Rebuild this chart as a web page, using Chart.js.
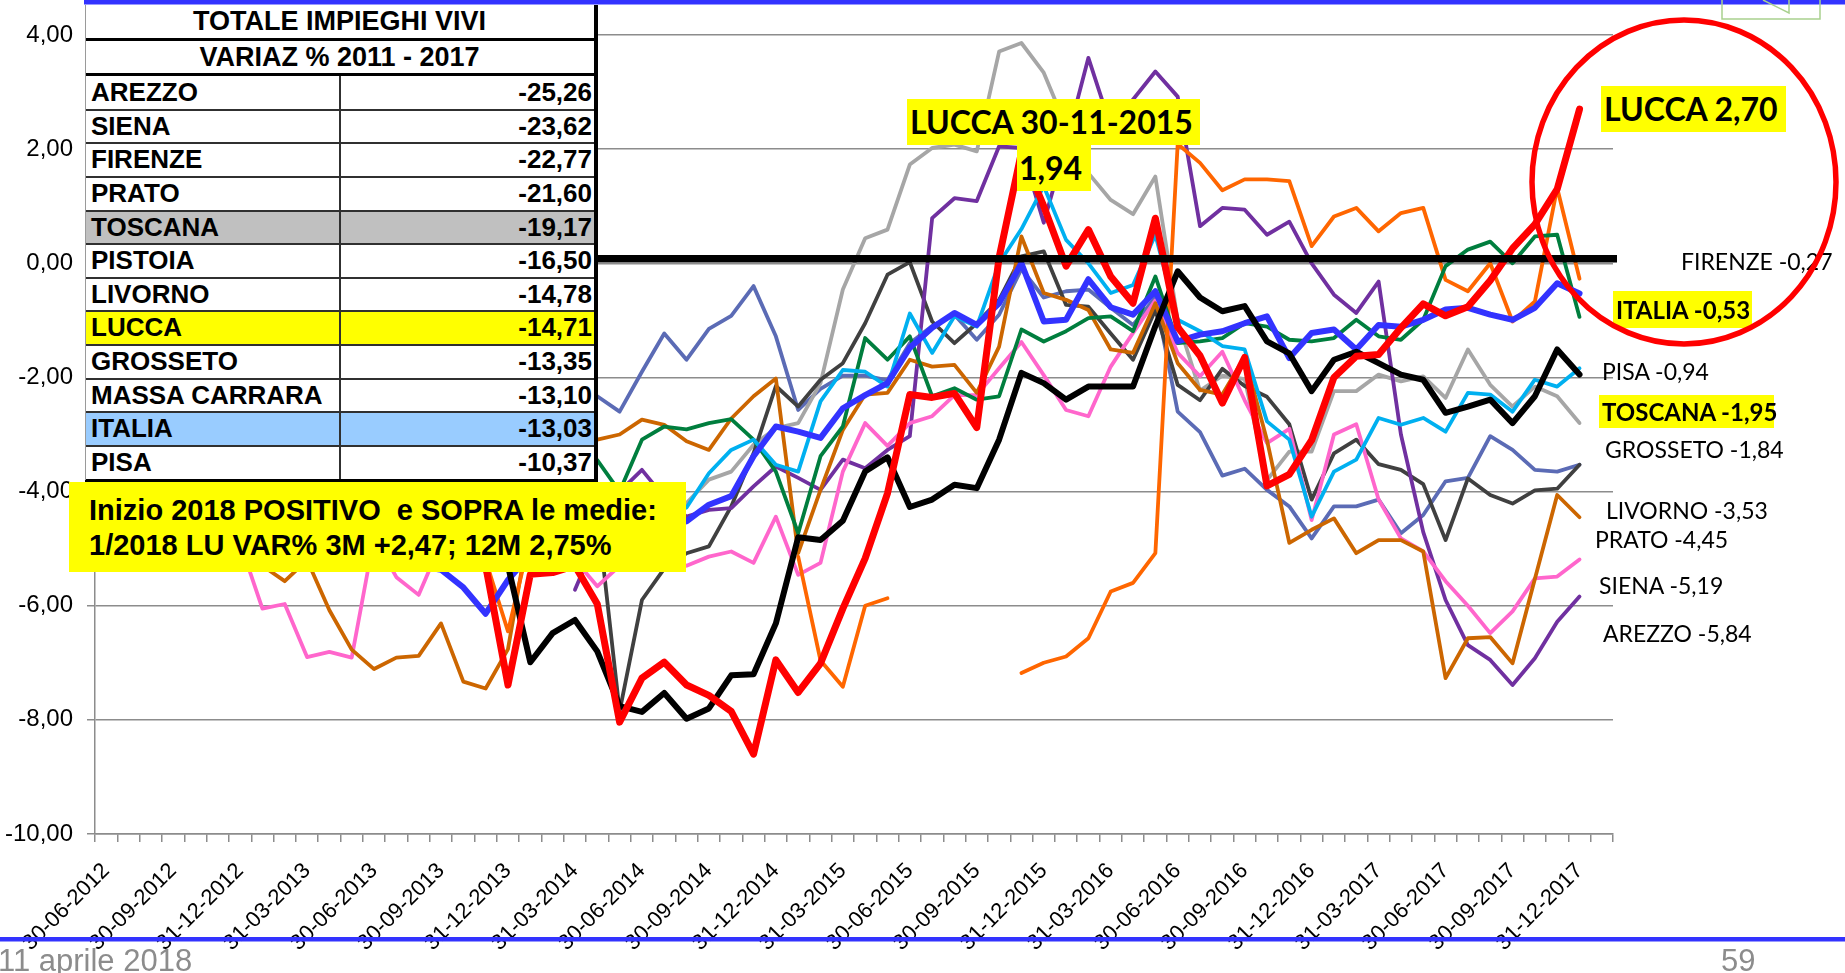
<!DOCTYPE html>
<html lang="it"><head><meta charset="utf-8"><title>Totale impieghi vivi</title>
<script src="https://cdn.jsdelivr.net/npm/chart.js@4.4.1/dist/chart.umd.min.js"></script>
<style>
 html,body{margin:0;padding:0;background:#fff;}
 #wrap{position:relative;width:1845px;height:973px;overflow:hidden;background:#fff;}
 #c{position:absolute;left:0;top:0;}
 .abs{position:absolute;white-space:pre;}
 .tb{font-family:"Liberation Sans",Arial,sans-serif;font-weight:bold;color:#000;}
 .lbl{font-family:Lato,sans-serif;font-size:23px;line-height:23px;color:#000;}
 .hl{font-family:Lato,sans-serif;font-weight:bold;background:#FFFF00;color:#000;}
 .foot{font-family:"Liberation Sans",Arial,sans-serif;font-size:31px;line-height:30px;color:#8c8c8c;}
</style></head>
<body><div id="wrap"><canvas id="c" width="1845" height="973"></canvas><div id="ov"></div></div>
<script>
// ---------- categories (month-end dates) ----------
const MONTHS = ["30-06-2012","31-07-2012","31-08-2012","30-09-2012","31-10-2012","30-11-2012","31-12-2012",
"31-01-2013","28-02-2013","31-03-2013","30-04-2013","31-05-2013","30-06-2013","31-07-2013","31-08-2013","30-09-2013","31-10-2013","30-11-2013","31-12-2013",
"31-01-2014","28-02-2014","31-03-2014","30-04-2014","31-05-2014","30-06-2014","31-07-2014","31-08-2014","30-09-2014","31-10-2014","30-11-2014","31-12-2014",
"31-01-2015","28-02-2015","31-03-2015","30-04-2015","31-05-2015","30-06-2015","31-07-2015","31-08-2015","30-09-2015","31-10-2015","30-11-2015","31-12-2015",
"31-01-2016","29-02-2016","31-03-2016","30-04-2016","31-05-2016","30-06-2016","31-07-2016","31-08-2016","30-09-2016","31-10-2016","30-11-2016","31-12-2016",
"31-01-2017","28-02-2017","31-03-2017","30-04-2017","31-05-2017","30-06-2017","31-07-2017","31-08-2017","30-09-2017","31-10-2017","30-11-2017","31-12-2017",
"31-01-2018"];
const LABEL_STEP = 3;
const Y_TICKS = [-10,-8,-6,-4,-2,0,2,4];
const ZERO_LINE_VALUE = 0.08;

// ---------- series values (% variation) ----------
const LUCCA = [-4.2,-4.4,-4.6,-4.5,-4.8,-4.9,-4.7,-4.6,-4.8,-5.0,-5.1,-4.9,-4.7,-4.8,-5.0,-5.2,-5.0,-5.3,
 -7.39,-5.45,-5.42,-5.3,-5.97,-8.04,-7.27,-6.99,-7.39,-7.57,-7.85,-8.6,-6.95,-7.52,-7.01,-6.05,-5.17,-4.03,
 -2.3,-2.35,-2.28,-2.88,0.1,1.94,1.0,-0.05,0.59,-0.23,-0.7,0.79,-1.12,-1.62,-2.45,-1.65,-3.9,-3.7,
 -3.1,-2.0,-1.63,-1.6,-1.13,-0.71,-0.92,-0.76,-0.3,0.26,0.68,1.3,2.7,null];
const TOSCANA = [-3.9,-4.1,-4.3,-4.2,-4.4,-4.6,-4.5,-4.4,-4.6,-4.8,-4.9,-4.7,-4.5,-4.6,-4.8,-5.0,-4.9,-5.1,-5.3,
 -6.99,-6.48,-6.25,-6.8,-7.76,-7.86,-7.53,-7.98,-7.8,-7.22,-7.2,-6.31,-4.8,-4.85,-4.51,-3.65,-3.4,-4.27,
 -4.14,-3.88,-3.94,-3.09,-1.92,-2.1,-2.39,-2.16,-2.16,-2.16,-1.1,-0.14,-0.6,-0.84,-0.75,-1.37,-1.58,-2.24,
 -1.69,-1.55,-1.75,-1.95,-2.04,-2.62,-2.51,-2.39,-2.8,-2.33,-1.51,-1.95,null];
const ITALIA = [-3.5,-3.7,-3.9,-4.0,-4.2,-4.3,-4.4,-4.6,-4.7,-4.8,-4.9,-5.0,-5.1,-5.2,-5.3,-5.37,-5.68,-6.14,
 -5.55,-5.1,-4.9,-4.8,-4.75,-4.7,-4.65,-4.6,-4.52,-4.23,-4.08,-3.38,-2.86,-2.95,-3.06,-2.54,-2.31,-2.1,
 -1.48,-1.13,-0.87,-1.08,-0.7,0.0,-1.02,-0.99,-0.28,-0.77,-0.9,-0.49,-1.37,-1.25,-1.19,-1.05,-0.93,-1.66,
 -1.22,-1.16,-1.51,-1.08,-1.11,-0.99,-0.81,-0.78,-0.9,-0.99,-0.78,-0.35,-0.53,null];
const GROSSETO = [-3.0,-3.2,-3.4,-3.3,-3.5,-3.7,-3.8,-3.9,-4.1,-4.2,-4.0,-4.3,-4.4,-4.5,-4.6,-4.5,-4.7,-4.8,-4.9,-4.8,-4.7,-4.6,-4.6,-4.5,-4.4,-4.35,
 -4.28,-3.68,-3.27,-3.09,-3.53,-3.65,-2.42,-1.87,-1.9,-2.16,-0.88,-1.57,-0.93,-1.11,0.0,0.6,1.35,0.41,0.0,-0.52,-0.38,
 0.5,-0.99,-1.19,-1.45,-1.51,-2.77,-3.09,-4.44,-3.65,-3.44,-2.71,-2.83,-2.71,-2.95,-2.27,-2.3,-2.6,-2.04,-2.16,-1.84,null];
const PISA = [-2.5,-2.7,-2.9,-3.0,-3.1,-3.3,-3.2,-3.0,-3.2,-3.4,-3.3,-3.1,-3.0,-2.9,-3.1,-3.3,-3.5,-3.6,-3.4,-3.2,-3.1,-3.2,
 -3.45,-4.0,-3.09,-2.86,-2.91,-2.8,-2.73,-3.09,-3.65,-4.73,-3.38,-2.86,-1.31,-1.69,-1.28,-2.33,-2.19,-2.39,-2.33,-1.16,-1.37,-1.19,-0.96,
 -0.93,-1.19,-0.23,-1.4,-1.37,-1.31,-1.05,-1.11,-1.34,-1.37,-1.31,-0.99,-1.28,-1.34,-0.99,-0.05,0.24,0.38,0.0,0.47,0.5,-0.94,null];
const FIRENZE = [-3.0,-3.3,-3.5,-3.6,-3.8,-4.0,-4.1,-4.2,-4.4,-4.5,-4.6,-4.8,-4.9,-5.0,-5.1,-5.0,-5.1,-5.2,-6.45,
 -4.8,-4.7,-4.6,null,null,null,null,null,null,null,null,null,-5.14,-6.96,-7.42,-6.0,-5.87,
 null,null,null,null,null,
 -7.18,-7.0,-6.89,-6.57,-5.75,-5.6,-5.08,2.09,1.76,1.28,1.47,1.47,1.44,0.3,0.82,0.97,0.56,0.88,0.97,-0.29,-0.49,0.0,-1.02,-0.67,1.32,-0.27,null];
const PRATO = [-3.5,-3.8,-4.2,-4.5,-4.8,-5.0,-5.2,-5.3,-5.57,-5.2,-6.08,-6.77,-7.11,-6.91,-6.88,-6.31,-7.33,-7.45,-6.76,
 -4.5,-3.9,-3.4,-3.09,-3.0,-2.74,-2.83,-3.12,-3.27,-2.72,-2.33,-2.02,-5.08,-3.97,-2.92,-2.3,-2.27,-1.69,
 -1.81,-1.78,-2.27,-1.46,0.47,-0.52,-0.64,-0.82,-1.51,-1.57,-0.7,-1.75,-2.22,-2.3,-1.64,-3.1,-4.9,-4.67,
 -4.47,-5.08,-4.85,-4.85,-5.05,-7.27,-6.57,-6.55,-7.01,-5.53,-4.06,-4.45,null];
const SIENA = [-3.2,-3.5,-3.8,-4.0,-4.3,-4.6,-4.9,-6.05,-5.97,-6.9,-6.81,-6.91,-4.8,-5.5,-5.81,-4.9,-4.7,-5.42,
 -4.9,-4.7,-4.8,-5.2,-5.66,-5.3,-5.1,-5.2,-5.3,-5.14,-5.05,-5.25,-4.44,-5.46,-5.25,-3.65,-2.8,-3.2,
 -2.8,-2.68,-2.31,-2.31,-1.84,-1.38,-1.96,-2.57,-2.68,-1.81,-1.22,-0.65,-1.57,-1.98,-1.55,-2.4,-3.15,-2.9,
 -4.5,-3.0,-2.82,-4.14,-4.82,-5.05,-5.57,-6.0,-6.48,-6.1,-5.52,-5.49,-5.19,null];
const AREZZO = [null,null,null,null,null,null,null,null,null,null,null,null,null,null,null,null,null,null,null,null,null,
 -5.72,-4.8,-4.0,-3.62,-4.1,-4.44,-4.32,-4.29,-3.91,-3.56,-3.76,-3.97,-3.44,-3.59,-3.27,-3.03,0.79,1.14,1.09,2.05,
 2.02,0.71,2.1,3.6,2.4,2.87,3.36,2.92,0.65,0.97,0.94,0.5,0.73,0.0,-0.55,-0.87,-0.32,-3.0,-4.71,-5.9,-6.69,-6.95,-7.39,-6.92,-6.28,-5.84,null];
const PISTOIA = [-3.2,-3.4,-3.6,-3.8,-4.0,-4.2,-4.3,-4.4,-4.6,-4.7,-4.8,-4.9,-5.0,-4.9,-4.8,-4.9,-5.0,-5.1,-5.0,-4.9,-4.8,-4.7,-4.6,-4.5,-4.4,-4.3,
 -4.2,-3.79,-3.65,-3.18,-2.89,-2.8,-2.1,-0.46,0.44,0.59,1.73,2.02,2.08,1.96,3.71,3.86,3.34,2.4,1.58,1.11,0.86,
 1.52,-1.0,-2.23,-1.97,-2.03,-3.8,-3.3,-3.3,-2.24,-2.24,-1.95,-2.07,-1.98,-2.36,-1.51,-2.13,-2.51,-2.16,-2.33,-2.8,null];
const LIVORNO = [-2.8,-3.0,-3.2,-3.4,-3.5,-3.7,-3.9,-4.0,-4.1,-4.3,-4.4,-4.5,-4.6,-4.5,-4.7,-4.8,-4.9,-5.0,-5.1,-5.0,-4.9,-4.8,
 -4.35,-7.85,-5.9,-5.35,-5.08,-4.96,-4.26,-3.33,-2.15,-2.51,-2.04,-1.75,-1.05,-0.2,0.02,-1.02,-1.4,-1.05,-0.64,0.12,0.21,-0.73,-0.76,
 -1.23,-1.69,-0.82,-2.13,-2.4,-1.85,-2.15,-2.34,-2.82,-4.14,-3.33,-3.09,-3.52,-3.62,-3.87,-4.85,-3.77,-4.06,-4.21,-3.98,-3.95,-3.53,null];
const MASSA_CARRARA = [-2.0,-2.2,-2.4,-2.5,-2.7,-2.9,-3.0,-3.1,-3.3,-3.4,-3.5,-3.6,-3.5,-3.3,-3.1,-2.9,-2.7,-2.5,-2.4,-2.3,-2.2,-2.2,
 -2.33,-2.6,-1.9,-1.23,-1.69,-1.15,-0.92,-0.4,-1.28,-2.57,-2.2,-1.97,-1.97,-2.05,-1.4,-1.1,-0.9,-1.34,-0.9,-0.1,-0.6,-0.49,-0.46,
 -0.78,-1.08,-0.6,-2.6,-2.96,-3.72,-3.6,-3.97,-4.26,-4.82,-4.26,-4.26,-4.14,-4.73,-4.41,-3.82,-3.76,-3.03,-3.27,-3.62,-3.65,-3.53,null];

// ---------- summary table ----------
const TABLE_TITLE_1 = "TOTALE IMPIEGHI VIVI";
const TABLE_TITLE_2 = "VARIAZ % 2011 - 2017";
const TABLE_NAMES = ["AREZZO","SIENA","FIRENZE","PRATO","TOSCANA","PISTOIA","LIVORNO","LUCCA","GROSSETO","MASSA CARRARA","ITALIA","PISA"];
const TABLE_VALUES = ["-25,26","-23,62","-22,77","-21,60","-19,17","-16,50","-14,78","-14,71","-13,35","-13,10","-13,03","-10,37"];

// ---------- end labels ----------
const END_LABELS = ["LUCCA 2,70","FIRENZE -0,27","ITALIA -0,53","PISA -0,94","TOSCANA -1,95","GROSSETO -1,84","LIVORNO -3,53","PRATO -4,45","SIENA -5,19","AREZZO -5,84"];
const PEAK_LABEL_1 = "LUCCA 30-11-2015";
const PEAK_LABEL_2 = "1,94";
const NOTE_LINES = ["Inizio 2018 POSITIVO  e SOPRA le medie:", "1/2018 LU VAR% 3M +2,47; 12M 2,75%"];
const FOOT_DATE = "11 aprile 2018";
const FOOT_PAGE = "59";

// ---------- chart ----------
const SERIES = [
 {name:'LUCCA', data:LUCCA, color:'#FF0000', w:7},
 {name:'TOSCANA', data:TOSCANA, color:'#000000', w:6},
 {name:'ITALIA', data:ITALIA, color:'#3333FF', w:6},
 {name:'GROSSETO', data:GROSSETO, color:'#00B0F0', w:3.8},
 {name:'PISA', data:PISA, color:'#007E3E', w:3.8},
 {name:'FIRENZE', data:FIRENZE, color:'#FF6600', w:3.8},
 {name:'PRATO', data:PRATO, color:'#CC6600', w:3.8},
 {name:'SIENA', data:SIENA, color:'#FF66CC', w:3.8},
 {name:'AREZZO', data:AREZZO, color:'#7030A0', w:3.8},
 {name:'LIVORNO', data:LIVORNO, color:'#404040', w:3.8},
 {name:'PISTOIA', data:PISTOIA, color:'#A6A6A6', w:3.8},
 {name:'MASSA CARRARA', data:MASSA_CARRARA, color:'#5B6BB5', w:3.8}
];

const zeroLine = {
  id:'zeroLine',
  afterDatasetsDraw(chart){
    const {ctx, chartArea, scales} = chart;
    const py = scales.y.getPixelForValue(ZERO_LINE_VALUE);
    ctx.save();
    ctx.strokeStyle = '#000'; ctx.lineWidth = 7.5;
    ctx.beginPath(); ctx.moveTo(chartArea.left, py); ctx.lineTo(chartArea.right + 4, py); ctx.stroke();
    ctx.restore();
  }
};

const xFont = {family:'"Liberation Sans", Arial, sans-serif', size:22};
const yFont = {family:'"Liberation Sans", Arial, sans-serif', size:24};
new Chart(document.getElementById('c'), {
  type:'line',
  data:{
    labels: MONTHS,
    datasets: SERIES.map(s => ({
      label:s.name, data:s.data, borderColor:s.color, backgroundColor:s.color,
      borderWidth:s.w, pointRadius:0, pointHoverRadius:0, fill:false, tension:0,
      spanGaps:false, borderJoinStyle:'round', borderCapStyle:'round'
    }))
  },
  options:{
    responsive:false, animation:false, devicePixelRatio:1,
    layout:{padding:{left:0, right:232, top:35, bottom:0}},
    plugins:{legend:{display:false}, tooltip:{enabled:false}},
    scales:{
      x:{
        type:'category', offset:true,
        grid:{display:true, drawOnChartArea:false, offset:true, tickLength:8, color:'#8c8c8c', lineWidth:1.5},
        border:{display:true, color:'#8c8c8c', width:1.5},
        ticks:{autoSkip:false, maxRotation:45, minRotation:45, font:xFont, color:'#000', padding:16,
          callback:(v,i) => (i % LABEL_STEP === 0 && i < MONTHS.length - 1) ? MONTHS[i] : ''},
        afterFit: s => { s.height = 139; }
      },
      y:{
        min:-10, max:4,
        afterBuildTicks: s => { s.ticks = Y_TICKS.map(v => ({value:v})); },
        grid:{color:'#8c8c8c', lineWidth:1.5, tickLength:8, drawTicks:true},
        border:{display:true, color:'#8c8c8c', width:1.5},
        ticks:{font:yFont, color:'#000', padding:14, callback: v => Number(v).toFixed(2).replace('.', ',')},
        afterFit: s => { s.width = 95; }
      }
    }
  },
  plugins:[zeroLine]
});

// ---------- overlays ----------
const ov = document.getElementById('ov');
function el(html){ ov.insertAdjacentHTML('beforeend', html); }

// summary table
(function(){
  const L = 85, R = 598, TOP = 5, ROW0 = 76, RH = 33.63, COL = 340;
  const rows = TABLE_NAMES.length;
  const bottom = ROW0 + rows * RH;
  const BG = {TOSCANA:'#C0C0C0', LUCCA:'#FFFF00', ITALIA:'#99CCFF'};
  el(`<div class="abs" style="left:${L}px;top:${TOP}px;width:${R-L}px;height:${bottom-TOP+2}px;background:#fff;"></div>`);
  el(`<div class="abs tb" style="left:${L}px;top:${TOP}px;width:${R-L-4}px;height:33px;line-height:33px;font-size:27px;text-align:center;">${TABLE_TITLE_1}</div>`);
  el(`<div class="abs" style="left:${L}px;top:38px;width:${R-L}px;height:3px;background:#000;"></div>`);
  el(`<div class="abs tb" style="left:${L}px;top:41px;width:${R-L-4}px;height:32px;line-height:32px;font-size:27px;text-align:center;">${TABLE_TITLE_2}</div>`);
  el(`<div class="abs" style="left:${L}px;top:73px;width:${R-L}px;height:3px;background:#000;"></div>`);
  TABLE_NAMES.forEach((n,k) => {
    const t = ROW0 + k*RH;
    const bg = BG[n] || '#fff';
    el(`<div class="abs" style="left:${L}px;top:${t}px;width:${R-L}px;height:${RH}px;background:${bg};"></div>`);
    if (k > 0) el(`<div class="abs" style="left:${L}px;top:${t-1}px;width:${R-L}px;height:2px;background:#303030;"></div>`);
    el(`<div class="abs tb" style="left:${L+6}px;top:${t}px;height:${RH}px;line-height:${RH}px;font-size:26px;">${n}</div>`);
    el(`<div class="abs tb" style="left:${COL}px;top:${t}px;width:${R-COL-6}px;height:${RH}px;line-height:${RH}px;font-size:26px;text-align:right;">${TABLE_VALUES[k]}</div>`);
  });
  el(`<div class="abs" style="left:${COL-1}px;top:${ROW0}px;width:2px;height:${bottom-ROW0}px;background:#303030;"></div>`);
  el(`<div class="abs" style="left:${L}px;top:${bottom-1}px;width:${R-L}px;height:3px;background:#000;"></div>`);
  el(`<div class="abs" style="left:${L}px;top:${TOP}px;width:1px;height:${bottom-TOP}px;background:#9a9a9a;"></div>`);
  el(`<div class="abs" style="left:${R-4}px;top:${TOP}px;width:4px;height:${bottom-TOP+2}px;background:#000;"></div>`);
})();

// yellow note box
el(`<div class="abs tb" style="left:69px;top:482px;width:617px;height:90px;background:#FFFF00;font-size:29px;line-height:34px;padding:0;">` +
   `<div class="abs" style="left:20px;top:11px;">${NOTE_LINES[0]}</div><div class="abs" style="left:20px;top:46px;">${NOTE_LINES[1]}</div></div>`);

// peak label
el(`<div class="abs hl" style="left:907px;top:99px;width:293px;height:46px;font-size:32px;line-height:46px;padding-left:3px;box-sizing:border-box;">${PEAK_LABEL_1}</div>`);
el(`<div class="abs hl" style="left:1017px;top:145px;width:74px;height:46px;font-size:32px;line-height:46px;padding-left:2px;box-sizing:border-box;">${PEAK_LABEL_2}</div>`);

// end labels
const END_POS = {
  "LUCCA 2,70":     {l:1601, t:86,  w:185, h:46, fs:32, hl:true},
  "ITALIA -0,53":   {l:1613, t:291, w:139, h:37, fs:24, hl:true},
  "TOSCANA -1,95":  {l:1599, t:395, w:175, h:33, fs:24, hl:true},
  "FIRENZE -0,27":  {l:1681, t:250},
  "PISA -0,94":     {l:1602, t:360},
  "GROSSETO -1,84": {l:1605, t:438},
  "LIVORNO -3,53":  {l:1606, t:499},
  "PRATO -4,45":    {l:1595, t:528},
  "SIENA -5,19":    {l:1599, t:574},
  "AREZZO -5,84":   {l:1603, t:622}
};
END_LABELS.forEach(txt => {
  const p = END_POS[txt];
  if (p.hl) el(`<div class="abs hl" style="left:${p.l}px;top:${p.t}px;width:${p.w}px;height:${p.h}px;font-size:${p.fs}px;line-height:${p.h}px;padding-left:3px;box-sizing:border-box;">${txt}</div>`);
  else el(`<div class="abs lbl" style="left:${p.l}px;top:${p.t}px;">${txt}</div>`);
});

// footer
el(`<div class="abs foot" style="left:-2px;top:946px;">${FOOT_DATE}</div>`);
el(`<div class="abs foot" style="left:1721px;top:946px;">${FOOT_PAGE}</div>`);

// decorations (slide bars, red circle, corner logo)
el(`<svg class="abs" style="left:0;top:0;" width="1845" height="973" xmlns="http://www.w3.org/2000/svg">
 <rect x="84" y="0" width="1761" height="4.5" fill="#3333FF"/>
 <rect x="0" y="937" width="1845" height="4.5" fill="#3333FF"/>
 <ellipse cx="1684" cy="182" rx="152" ry="162" fill="none" stroke="#FF0000" stroke-width="5.5"/>
 <polyline points="1722,0 1722,19 1820,19 1820,0" fill="none" stroke="#A9D18E" stroke-width="1.5"/>
 <polyline points="1763,0 1789,13 1789,0" fill="none" stroke="#A9D18E" stroke-width="1.5"/>
</svg>`);
</script></body></html>
